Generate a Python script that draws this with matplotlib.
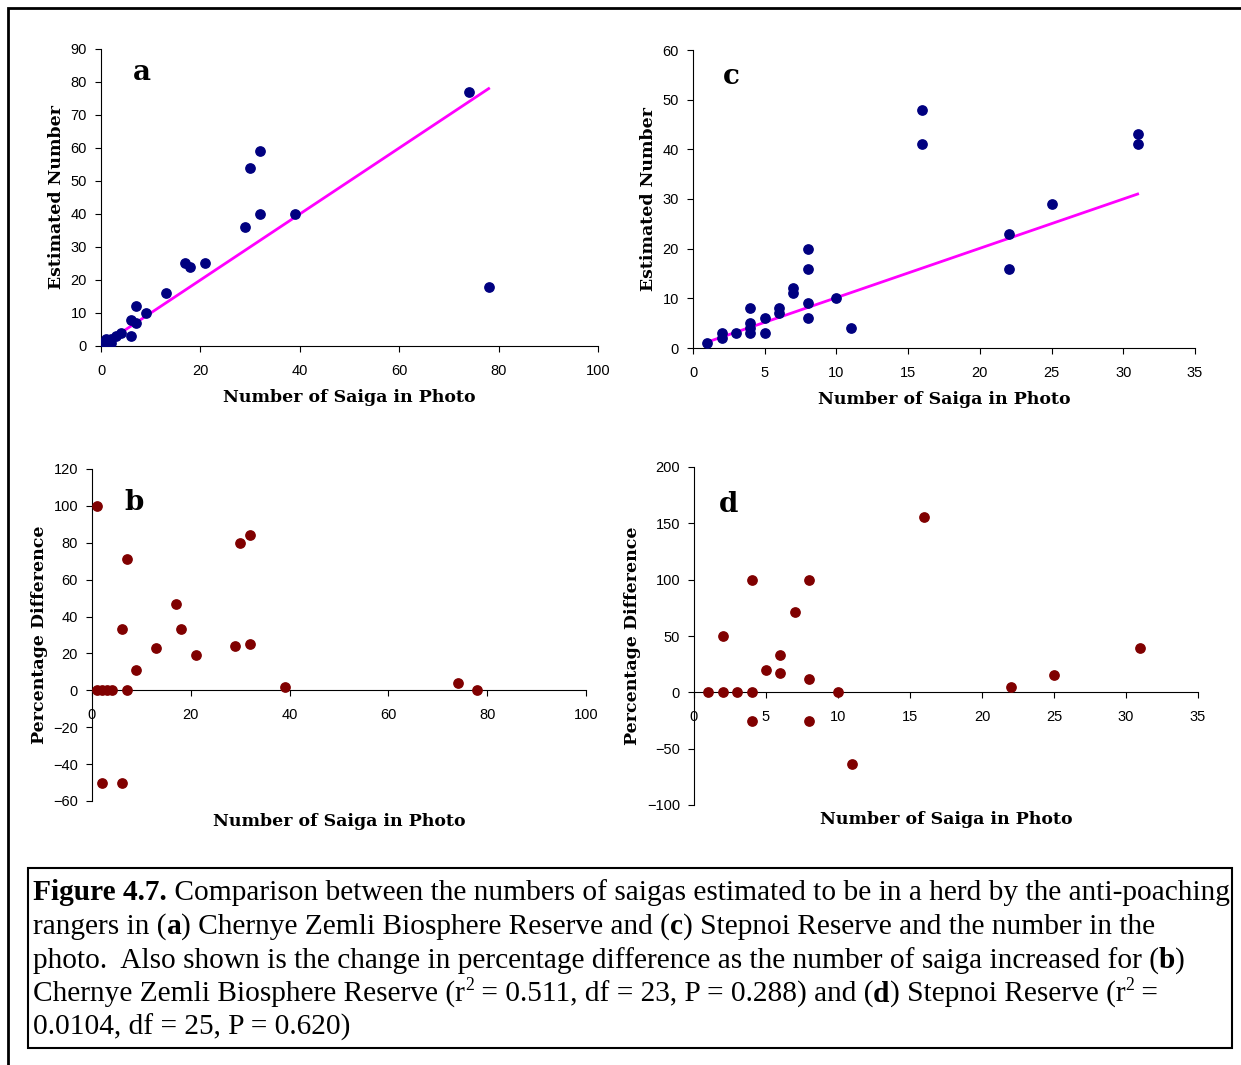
import matplotlib.pyplot as plt
from matplotlib.patches import Rectangle

# panel a: Chernye Zemli, photo count vs estimate
a_photo = [0.5, 1, 1, 2, 2, 3, 4, 6, 6, 7, 7, 9, 13, 17, 18, 21, 29, 30, 32, 32, 39, 74, 78]
a_est = [1, 2, 1, 1, 2, 3, 4, 3, 8, 7, 12, 10, 16, 25, 24, 25, 36, 54, 59, 40, 40, 77, 18]
a_fit = ([2, 78], [2, 78])

# panel c: Stepnoi
c_photo = [1, 2, 2, 3, 4, 4, 4, 4, 5, 5, 6, 6, 7, 7, 8, 8, 8, 8, 10, 11, 16, 16, 22, 22, 25, 31, 31]
c_est = [1, 2, 3, 3, 3, 4, 5, 8, 3, 6, 7, 8, 11, 12, 6, 9, 16, 20, 10, 4, 48, 41, 23, 16, 29, 43, 41]
c_fit = ([1, 31], [1.2, 31])

# panel b: percentage difference, Chernye Zemli
b_photo = [1, 1, 2, 3, 4, 2, 6, 6, 7, 7, 9, 13, 17, 18, 21, 29, 30, 32, 32, 39, 74, 78]
b_pct = [100, 0, 0, 0, 0, -50, -50, 33, 71, 0, 11, 23, 47, 33, 19, 24, 80, 84, 25, 2, 4, 0]

# panel d: percentage difference, Stepnoi
d_photo = [1, 2, 2, 3, 4, 4, 4, 5, 6, 6, 7, 8, 8, 8, 10, 11, 16, 22, 25, 31]
d_pct = [0, 0, 50, 0, 0, 100, -25, 20, 33, 17, 71, 100, 12, -25, 0, -64, 156, 5, 15, 39]

W, H = 1241, 1065
fig = plt.figure(figsize=(W / 100, H / 100), dpi=100)

TICKFONT = "Liberation Sans"
LABELFONT = dict(family="DejaVu Serif", weight="bold", size=12.5)


def make_ax(l, r, t, b):
    return fig.add_axes([l / W, 1 - b / H, (r - l) / W, (b - t) / H])


def style(ax):
    for s in ("top", "right"):
        ax.spines[s].set_visible(False)
    ax.tick_params(direction="out", labelsize=10.5, length=4)
    ax.tick_params(axis="x", pad=9)
    ax.tick_params(axis="y", pad=6)
    for lab in ax.get_xticklabels() + ax.get_yticklabels():
        lab.set_family(TICKFONT)


# a
ax = make_ax(101, 598, 49, 346)
ax.scatter(a_photo, a_est, s=45, color="#000080", zorder=3)
ax.plot(*a_fit, color="#ff00ff", lw=2)
ax.set_xlim(0, 100)
ax.set_ylim(0, 90)
ax.set_xticks(range(0, 101, 20))
ax.set_yticks(range(0, 91, 10))
ax.set_xlabel("Number of Saiga in Photo", labelpad=8, **LABELFONT)
ax.set_ylabel("Estimated Number", **LABELFONT)
ax.text(0.065, 0.92, "a", transform=ax.transAxes, fontsize=20, weight="bold", family="DejaVu Serif", va="center")
style(ax)

# c
ax = make_ax(693, 1195, 50, 348)
ax.scatter(c_photo, c_est, s=45, color="#000080", zorder=3)
ax.plot(*c_fit, color="#ff00ff", lw=2)
ax.set_xlim(0, 35)
ax.set_ylim(0, 60)
ax.set_xticks(range(0, 36, 5))
ax.set_yticks(range(0, 61, 10))
ax.set_xlabel("Number of Saiga in Photo", labelpad=8, **LABELFONT)
ax.set_ylabel("Estimated Number", **LABELFONT)
ax.text(0.06, 0.91, "c", transform=ax.transAxes, fontsize=20, weight="bold", family="DejaVu Serif", va="center")
style(ax)

# b
ax = make_ax(92, 586, 469, 801)
ax.scatter(b_photo, b_pct, s=45, color="#800000", zorder=3, clip_on=False)
ax.set_xlim(0, 100)
ax.set_ylim(-60, 120)
ax.set_xticks(range(0, 101, 20))
ax.set_yticks(range(-60, 121, 20))
ax.spines["bottom"].set_position(("data", 0))
ax.set_ylabel("Percentage Difference", **LABELFONT)
ax.text(0.065, 0.9, "b", transform=ax.transAxes, fontsize=20, weight="bold", family="DejaVu Serif", va="center")
style(ax)
fig.text((92 + 586) / 2 / W, 1 - 821 / H, "Number of Saiga in Photo", ha="center", va="center", **LABELFONT)

# d
ax = make_ax(694, 1198, 467, 805)
ax.scatter(d_photo, d_pct, s=45, color="#800000", zorder=3)
ax.set_xlim(0, 35)
ax.set_ylim(-100, 200)
ax.set_xticks(range(0, 36, 5))
ax.set_yticks(range(-100, 201, 50))
ax.spines["bottom"].set_position(("data", 0))
ax.set_ylabel("Percentage Difference", **LABELFONT)
ax.text(0.05, 0.89, "d", transform=ax.transAxes, fontsize=20, weight="bold", family="DejaVu Serif", va="center")
style(ax)
fig.text((694 + 1198) / 2 / W, 1 - 819 / H, "Number of Saiga in Photo", ha="center", va="center", **LABELFONT)

# frame and caption box
fig.add_artist(Rectangle((8 / W, -0.01), 1.1, 1 - 8 / H + 0.01, transform=fig.transFigure,
                         fill=False, lw=2, color="black"))
fig.add_artist(Rectangle((28 / W, 1 - 1048 / H), (1232 - 28) / W, (1048 - 868) / H,
                         transform=fig.transFigure, fill=False, lw=1.5, color="black"))

FS = 21.2
lines = [
    [("Figure 4.7.", "bold"), (" Comparison between the numbers of saigas estimated to be in a herd by the anti-poaching", "normal")],
    [("rangers in (", "normal"), ("a", "bold"), (") Chernye Zemli Biosphere Reserve and (", "normal"), ("c", "bold"),
     (") Stepnoi Reserve and the number in the", "normal")],
    [("photo.  Also shown is the change in percentage difference as the number of saiga increased for (", "normal"),
     ("b", "bold"), (")", "normal")],
    [("Chernye Zemli Biosphere Reserve (r", "normal"), ("2", "sup"), (" = 0.511, df = 23, P = 0.288) and (", "normal"),
     ("d", "bold"), (") Stepnoi Reserve (r", "normal"), ("2", "sup"), (" =", "normal")],
    [("0.0104, df = 25, P = 0.620)", "normal")],
]
ys = [893, 927, 961, 994, 1027]
fig.canvas.draw()
r = fig.canvas.get_renderer()
for parts, y in zip(lines, ys):
    x = 33
    for txt, wt in parts:
        if wt == "sup":
            t = fig.text(x / W, 1 - (y - 9) / H, txt, va="center", ha="left",
                         family="Liberation Serif", size=FS * 0.6)
        else:
            t = fig.text(x / W, 1 - y / H, txt, weight=wt, va="center", ha="left",
                         family="Liberation Serif", size=FS)
        x += t.get_window_extent(renderer=r).width

fig.savefig("out.png", dpi=100)
